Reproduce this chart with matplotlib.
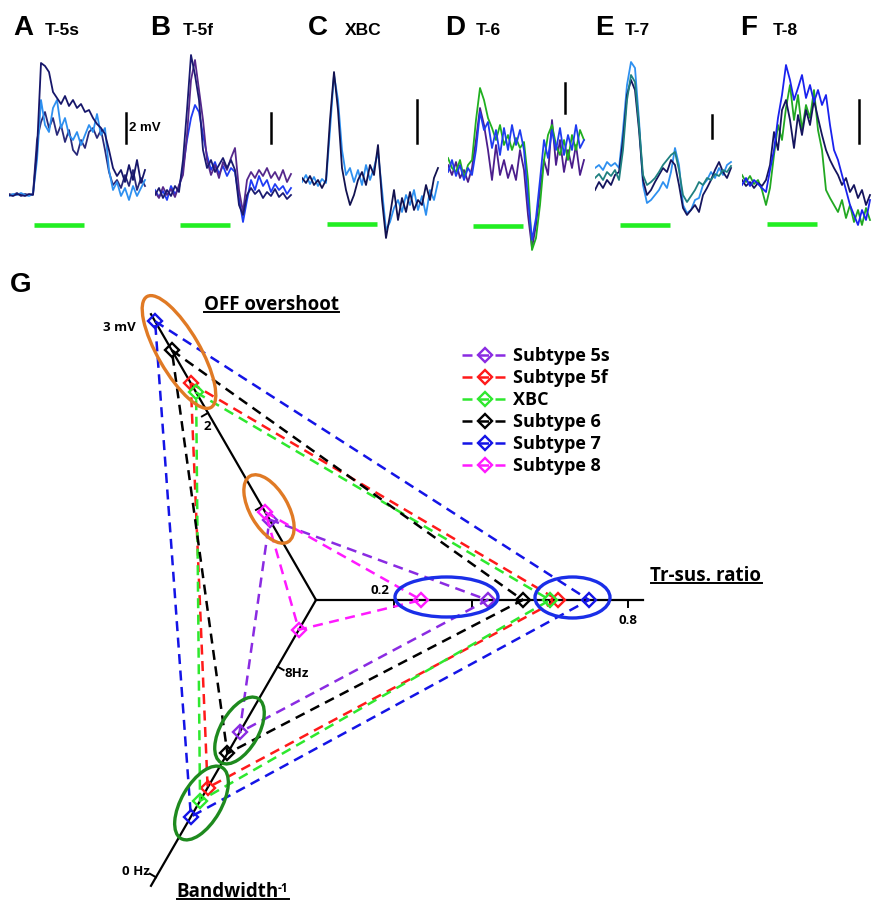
import numpy as np
import matplotlib
matplotlib.use('Agg')
import matplotlib.pyplot as plt
from matplotlib.patches import Ellipse
from matplotlib.lines import Line2D

# ---- panel A-F traces (mV, one sample every 40 ms) ----
a_navy1 = [0.0,-0.1,0.1,0.0,-0.1,0.1,0.0,4.5,13.2,12.9,12.3,10.3,9.7,9.1,9.9,8.9,9.5,8.7,9.1,8.3,8.5,7.7,7.1,6.7,6.1,4.5,2.7,1.9,2.5,1.3,3.0,1.5,3.5,1.2,2.5]
a_navy2 = [0.1,0.0,0.2,-0.1,0.1,0.0,0.1,5.5,7.3,8.3,6.7,7.7,6.0,7.0,5.3,6.5,4.5,4.0,5.5,4.7,6.3,6.7,5.7,6.5,4.5,2.3,1.0,1.5,0.7,2.0,0.9,2.5,0.5,1.7,0.9]
a_light = [-0.1,0.1,0.0,0.2,0.0,-0.1,0.1,3.5,9.5,7.0,6.3,8.7,9.5,6.7,7.7,6.0,5.5,6.3,5.0,6.0,7.0,6.3,8.1,6.0,6.7,2.5,0.5,1.3,-0.1,0.7,-0.5,0.9,-0.1,0.7,1.5]

b_navy = [-0.2,0.5,-0.5,0.3,-0.3,0.7,0.1,3.3,8.3,13.8,11.8,9.3,4.3,2.5,3.3,2.1,2.8,3.5,2.5,3.3,2.3,-1.2,-2.2,-0.2,0.5,-0.1,0.3,-0.5,0.1,-0.3,0.4,-0.4,0.0,-0.6,-0.2]
b_purple = [0.1,-0.5,0.6,-0.2,0.4,-0.4,0.8,1.8,5.8,11.3,13.3,10.3,7.3,3.3,1.8,2.8,1.5,3.1,2.3,3.5,4.5,0.3,-1.9,1.3,2.1,1.5,2.3,1.7,2.5,1.5,2.1,1.3,2.3,1.1,1.9]
b_blue = [0.3,-0.4,0.2,-0.7,0.7,-0.1,0.5,2.5,5.3,7.5,8.8,8.1,5.8,3.8,2.3,3.1,1.9,2.7,1.7,2.5,2.1,-0.5,-2.9,-0.7,1.3,0.3,1.7,0.7,1.3,0.1,0.9,0.3,0.7,-0.1,0.5]

c_navy = [0.2,-0.3,0.4,-0.5,0.0,-0.8,0.0,6.0,10.8,7.0,1.2,-1.0,-2.5,-1.5,0.0,0.8,-0.5,1.5,0.5,3.5,-2.0,-5.8,-3.5,-1.0,-4.0,-1.8,-3.2,-1.2,-3.0,-2.0,-2.5,-0.5,-2.0,0.2,1.2]
c_light = [-0.2,0.5,-0.4,0.3,-0.6,0.1,-0.3,5.0,10.5,8.0,3.0,0.5,1.2,-0.2,1.0,-0.5,1.5,0.0,1.2,2.8,-1.0,-5.0,-4.2,-2.8,-2.0,-3.2,-1.5,-2.5,-1.0,-3.0,-1.6,-3.5,-1.0,-2.0,-0.2]

d_purple = [0.5,-0.5,0.8,-0.8,0.0,-1.2,0.2,3.0,6.2,4.5,2.0,-1.0,2.5,-0.5,1.0,-0.8,0.5,-1.0,2.0,0.0,-4.5,-7.8,-5.5,-2.0,1.0,-0.5,5.0,0.5,3.0,-0.2,2.0,0.2,2.5,-0.5,1.0]
d_blue = [-0.2,1.0,-0.6,0.5,-1.0,0.2,-0.5,2.0,5.8,4.0,4.8,2.2,4.0,1.5,4.2,2.0,4.5,2.5,4.0,2.0,-3.0,-7.0,-4.8,-1.0,3.0,1.2,4.0,2.0,4.2,1.5,3.5,2.0,4.5,2.2,3.0]
d_green = [1.2,0.2,-0.2,1.0,-0.8,0.5,1.0,5.0,8.2,7.0,5.2,4.2,3.0,4.5,2.5,3.5,2.0,3.2,2.2,2.8,-1.0,-8.0,-6.8,-3.5,1.0,3.5,4.5,2.5,1.5,3.0,1.0,3.5,2.0,4.0,3.0]

e_light = [0.9,1.2,0.7,1.5,1.1,1.4,0.9,4.7,9.2,11.5,10.9,5.7,-0.8,-2.6,-2.3,-1.8,-1.3,-0.5,-1.1,0.5,2.9,1.2,-2.8,-3.6,-3.3,-2.3,-2.1,-0.8,-0.3,0.5,-0.1,0.9,0.2,1.2,1.5]
e_navy = [-1.3,-0.5,-1.1,-0.3,-0.8,0.2,0.5,3.7,8.2,9.7,8.7,4.7,-0.3,-1.8,-1.3,-0.5,0.2,0.9,0.5,1.7,1.2,-0.8,-3.1,-3.8,-3.3,-2.8,-3.5,-1.8,-1.1,-0.3,0.7,1.5,0.5,-0.1,0.9]
e_teal = [-0.1,0.3,-0.3,0.5,0.1,0.7,-0.3,2.7,7.7,10.2,9.5,5.2,0.2,-0.8,-0.5,-0.1,0.5,1.2,1.7,2.2,2.5,0.7,-1.8,-2.5,-1.9,-1.3,-0.5,-0.8,-0.1,-0.3,0.3,0.1,0.7,0.5,1.1]

f_blue = [-0.3,0.4,-0.4,0.2,-0.2,-0.6,-1.0,1.2,3.2,6.4,8.7,11.7,10.2,8.2,9.4,10.7,8.4,9.7,8.0,9.2,7.7,8.7,5.7,3.2,2.2,0.7,-0.8,-2.3,-3.3,-4.3,-2.8,-3.8,-1.8]
f_navy = [0.2,-0.4,0.0,-0.6,-0.1,-0.4,0.2,1.7,5.0,3.2,7.2,8.2,6.2,3.4,6.7,4.7,7.2,5.7,8.2,6.4,4.7,3.2,2.2,1.4,0.7,-0.3,0.4,-1.0,-0.3,-1.6,-0.8,-2.3,-1.3]
f_green = [0.7,0.0,0.6,-0.2,0.2,-0.8,-2.3,-0.6,2.7,5.7,4.2,7.4,9.7,6.2,8.7,5.2,7.7,6.4,9.2,5.2,3.2,-0.8,-1.6,-2.3,-3.0,-1.8,-3.6,-2.3,-4.0,-2.8,-4.3,-2.6,-3.8]

dt_ms = 40
stim_on, stim_off = 250, 750

# ---- panel G values ----
subtypes = ['Subtype 5s', 'Subtype 5f', 'XBC', 'Subtype 6', 'Subtype 7', 'Subtype 8']
sub_colors = ['#8a2be2', '#ff1a1a', '#2ee82e', '#000000', '#1414e6', '#ff1aff']
off_mv = [0.86, 2.32, 2.22, 2.67, 2.98, 0.94]
tr_ratio = [0.44, 0.62, 0.60, 0.53, 0.70, 0.27]
bw_hz = [5.5, 3.4, 2.9, 4.7, 2.3, 9.4]

W, H = 874, 905
fig = plt.figure(figsize=(W / 100, H / 100), dpi=100)
plt.rcParams['font.family'] = ['Liberation Sans', 'DejaVu Sans']
GFONT = ['Open Sans', 'DejaVu Sans']


def px_axes(x0, y0, w, h):
    a = fig.add_axes([x0 / W, 1 - (y0 + h) / H, w / W, h / H])
    a.patch.set_alpha(0)
    a.axis('off')
    return a


# letter, title, left px, baseline px, traces, scale bar (ms, bottom mV, length), stim bar level
panels = [
    ('A', 'T-5s', 9, 195, [(a_navy2, '#2a2a7a'), (a_light, '#2e90f0'), (a_navy1, '#16166a')], (1170, 5.2, 3.0), -3.0),
    ('B', 'T-5f', 155, 193, [(b_blue, '#1f3cf5'), (b_purple, '#55288c'), (b_navy, '#1a1a70')], (1160, 5.0, 3.0), -3.2),
    ('C', 'XBC', 302, 180, [(c_light, '#2e90f0'), (c_navy, '#121250')], (1150, 3.7, 4.3), -4.4),
    ('D', 'T-6', 448, 170, [(d_purple, '#4b1e8c'), (d_green, '#20b020'), (d_blue, '#1f3cf0')], (1170, 5.7, 3.0), -5.6),
    ('E', 'T-7', 595, 177, [(e_light, '#2e90f0'), (e_navy, '#15155e'), (e_teal, '#1f8080')], (1170, 3.9, 2.3), -4.8),
    ('F', 'T-8', 742, 182, [(f_green, '#22a822'), (f_navy, '#15155e'), (f_blue, '#1a22ee')], (1170, 3.9, 4.3), -4.2),
]
letter_x = [13, 150, 308, 445, 595, 740]
title_x = [45, 183, 345, 476, 625, 773]

for (let, title, x0, base, traces, sbar, stim_y), lx, tx in zip(panels, letter_x, title_x):
    ax = px_axes(x0, 40, 145, 230)
    ax.set_xlim(0, 1450)
    ax.set_ylim((base - 270) / 10, (base - 40) / 10)
    for vals, col in traces:
        t = np.arange(len(vals)) * dt_ms
        ax.plot(t, vals, color=col, lw=1.3)
    ax.plot([stim_on, stim_off], [stim_y, stim_y], color='#22ee22', lw=3.3, solid_capstyle='butt')
    ax.plot([sbar[0], sbar[0]], [sbar[1], sbar[1] + sbar[2]], color='k', lw=1.8)
    if let == 'A':
        ax.text(sbar[0] + 30, sbar[1] + 1.5, '2 mV', fontsize=9.5, fontweight='bold', va='center')
    fig.text(lx / W, 1 - 35 / H, let, fontsize=20, fontweight='bold', va='baseline')
    fig.text(tx / W, 1 - 35 / H, title, fontsize=12.5, fontweight='bold', va='baseline')

fig.text(10 / W, 1 - 292 / H, 'G', fontsize=20, fontweight='bold', va='baseline')

# ---- panel G: three-axis plot, units are pixels from the centre ----
axg = px_axes(0, 270, W, H - 270)
axg.set_xlim(-316, W - 316)
axg.set_ylim(-(H - 600), 330)

OFF_PX, TR_PX, BW_PX, BW_MAX = 108.0, 390.0, 30.4, 10.53


def unit(deg):
    return np.array([np.cos(np.radians(deg)), np.sin(np.radians(deg))])


d_off, d_tr, d_bw = unit(120), unit(0), unit(240)

for d, L in [(d_off, 330), (d_tr, 327), (d_bw, 330)]:
    axg.plot([0, d[0] * L], [0, d[1] * L], color='k', lw=1.6, zorder=2)


def tick(d, r, side=1, length=7):
    n = np.array([-d[1], d[0]]) * side
    p = d * r
    axg.plot([p[0], p[0] + n[0] * length], [p[1], p[1] + n[1] * length], color='k', lw=1.4, zorder=2)
    return p


lab = dict(fontsize=9.5, fontweight='bold', family=GFONT)
for v in [1, 2]:
    tick(d_off, v * OFF_PX)
p = d_off * 3 * OFF_PX
axg.text(p[0] - 35, p[1] - 8, '3 mV', ha='center', va='center', **lab)
p = d_off * 2 * OFF_PX
axg.text(p[0] - 1, p[1] - 14, '2', ha='center', va='center', **lab)
for v in [0.2, 0.4, 0.6, 0.8]:
    tick(d_tr, v * TR_PX, side=-1)
axg.text(0.2 * TR_PX - 14, 9, '0.2', ha='center', va='center', **lab)
axg.text(0.8 * TR_PX, -21, '0.8', ha='center', va='center', **lab)
p = tick(d_bw, (BW_MAX - 8) * BW_PX)
axg.text(p[0] + 7, p[1] - 7, '8Hz', ha='left', va='center', **lab)
p = tick(d_bw, BW_MAX * BW_PX, side=-1)
axg.text(p[0] - 20, p[1] + 6, '0 Hz', ha='center', va='center', **lab)

dash = (0, (4.0, 2.6))
for name, col, o, tr, bw in zip(subtypes, sub_colors, off_mv, tr_ratio, bw_hz):
    pts = [d_off * o * OFF_PX, d_tr * tr * TR_PX, d_bw * (BW_MAX - bw) * BW_PX]
    xs = [q[0] for q in pts] + [pts[0][0]]
    ys = [q[1] for q in pts] + [pts[0][1]]
    axg.plot(xs, ys, color=col, ls=dash, lw=1.8, marker='D', ms=7, mfc='none', mew=1.7,
             markevery=[0, 1, 2], zorder=3)

ell = [((-137, 248), 128, 42, 120, '#e07a25'), ((-47, 91), 76, 38, 120, '#e07a25'),
       ((130.5, 3), 103, 40, 0, '#1a2ee8'), ((256.5, 2.5), 75, 41, 0, '#1a2ee8'),
       ((-76.5, -130.5), 74, 38, 60, '#1e8a1e'), ((-114.5, -203), 82, 40, 60, '#1e8a1e')]
for c, w, h, ang, col in ell:
    axg.add_patch(Ellipse(c, w, h, angle=ang, fill=False, ec=col, lw=2.4, zorder=4))

tfont = dict(fontsize=13.5, fontweight='bold', family=GFONT)
t_off = axg.text(-45, 295, 'OFF overshoot', ha='center', va='center', **tfont)
t_tr = axg.text(390, 24, 'Tr-sus. ratio', ha='center', va='center', **tfont)
t_bw = axg.text(-88, -292, 'Bandwidth', ha='center', va='center', **tfont)

handles = [Line2D([], [], color=c, ls=dash, lw=1.8, marker='D', ms=7, mfc='none', mew=1.7)
           for c in sub_colors]
fig.legend(handles, subtypes, loc='upper left', bbox_to_anchor=(462 / W, 1 - 347 / H),
           frameon=False, prop={'family': GFONT, 'weight': 'bold', 'size': 13},
           handlelength=2.5, handletextpad=0.3, labelspacing=0.22, borderaxespad=0, borderpad=0)

# superscript and underlines need the rendered text extents
fig.canvas.draw()
r = fig.canvas.get_renderer()
bb = t_bw.get_window_extent(r)
sup = fig.text((bb.x1 - 1) / W, (bb.y1 - 6) / H, '-1', fontsize=8.5, fontweight='bold',
               family=GFONT, va='center')
fig.canvas.draw()
for t, extra in [(t_off, None), (t_tr, None), (t_bw, sup)]:
    b = t.get_window_extent(r)
    x1 = b.x1
    if extra is not None:
        x1 = extra.get_window_extent(r).x1
    y = b.y0 + 3
    fig.add_artist(Line2D([b.x0 / W, x1 / W], [y / H, y / H], color='k', lw=1.4,
                          transform=fig.transFigure))

fig.savefig('out.png', dpi=100)
